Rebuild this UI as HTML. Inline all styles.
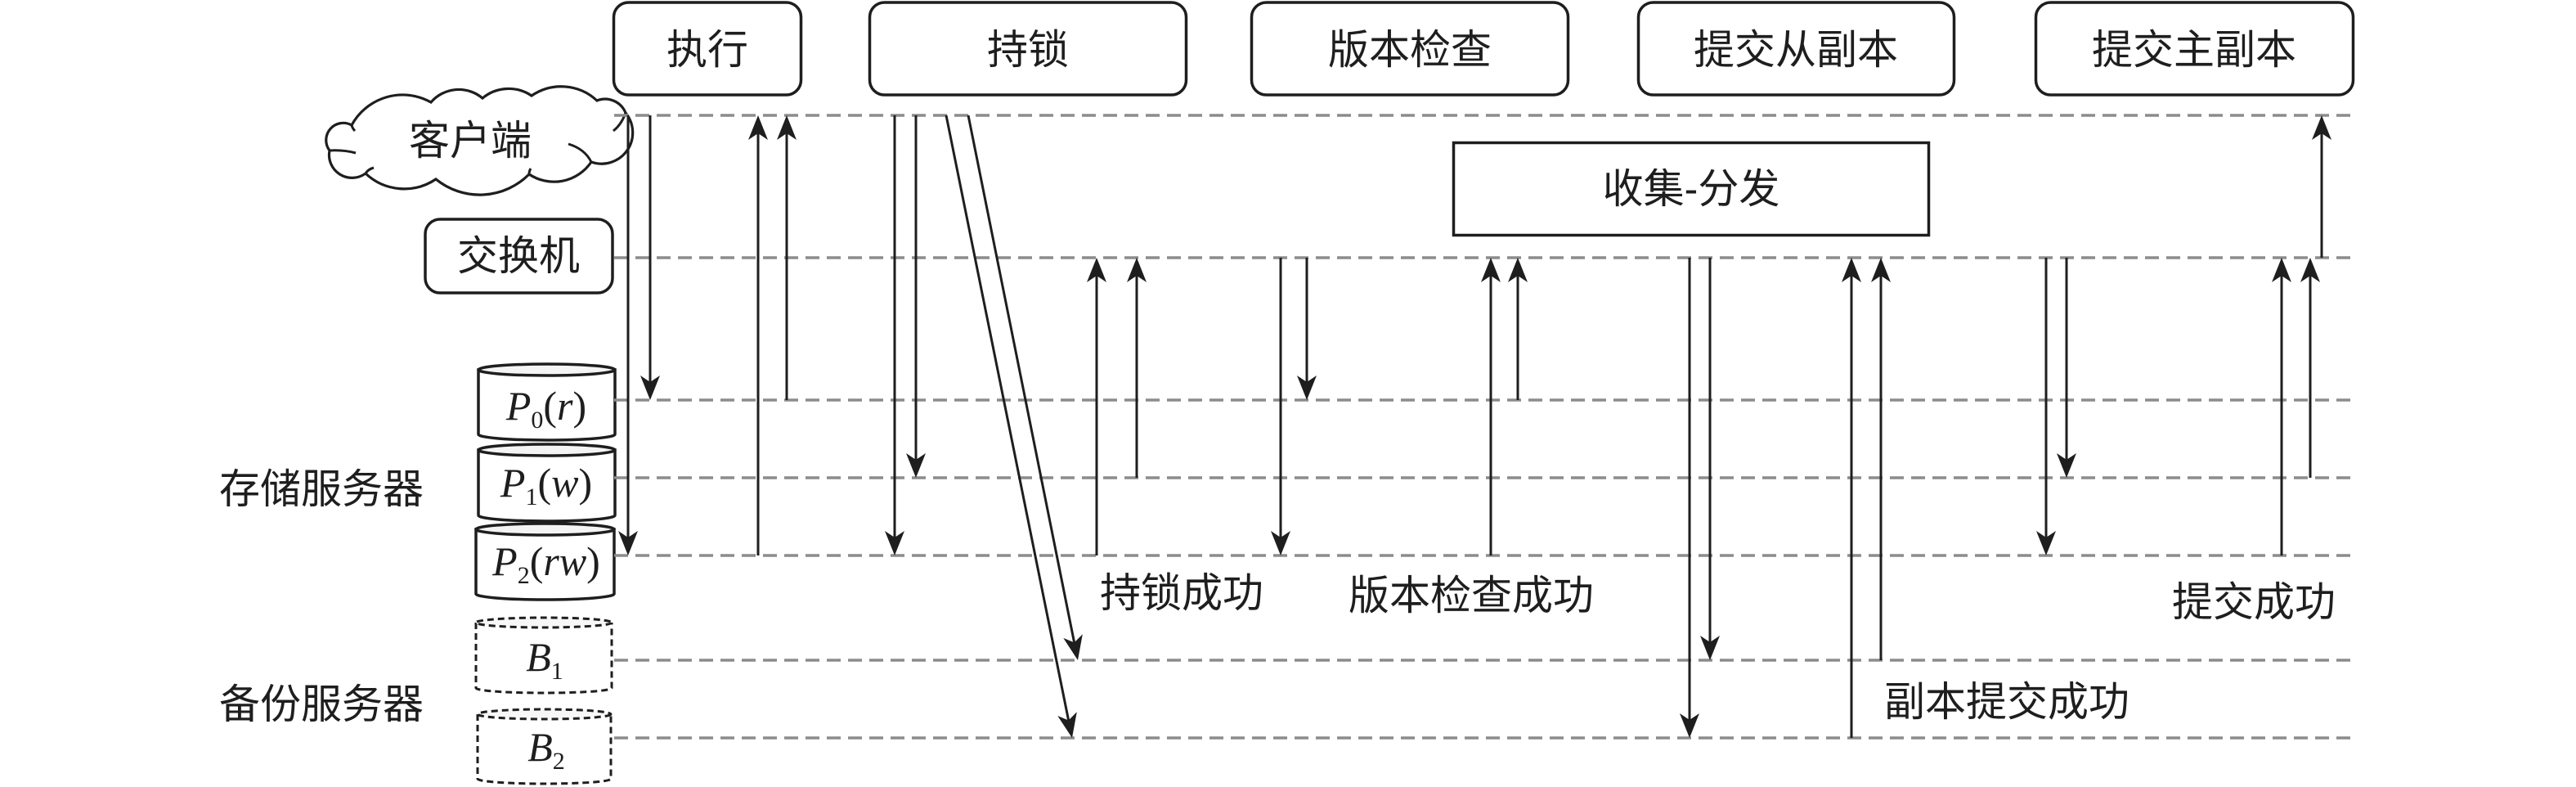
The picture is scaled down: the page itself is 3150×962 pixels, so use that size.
<!DOCTYPE html>
<html>
<head>
<meta charset="utf-8">
<style>
  html, body { margin: 0; padding: 0; background: #ffffff; }
  body { width: 3150px; height: 962px; overflow: hidden; }
  svg { display: block; }
  .cjk { font-family: "Liberation Sans", "Noto Sans CJK SC", "WenQuanYi Zen Hei", sans-serif; font-size: 50px; fill: #1e1e1e; }
  .ser { font-family: "Liberation Serif", serif; font-size: 50px; fill: #1e1e1e; }
</style>
</head>
<body>
<svg width="3150" height="962" viewBox="0 0 3150 962" xmlns="http://www.w3.org/2000/svg">
  <defs>
    <marker id="ah" viewBox="0 0 30 24" refX="20" refY="12" markerWidth="30" markerHeight="24" markerUnits="userSpaceOnUse" orient="auto">
      <path d="M0,0 L30,12 L0,24 L8,12 Z" fill="#1e1e1e"/>
    </marker>
  </defs>

  <!-- Top phase boxes -->
  <g fill="#ffffff" stroke="#1e1e1e" stroke-width="3.5">
    <rect x="750.5" y="3" width="229" height="113" rx="18"/>
    <rect x="1063.5" y="3" width="387" height="113" rx="18"/>
    <rect x="1530.5" y="3" width="387" height="113" rx="18"/>
    <rect x="2003.5" y="3" width="386" height="113" rx="18"/>
    <rect x="2489.5" y="3" width="388" height="113" rx="18"/>
    <!-- switch box -->
    <rect x="520" y="268" width="229" height="90" rx="18"/>
    <!-- gather-scatter box -->
    <rect x="1777.5" y="174.5" width="581" height="113"/>
  </g>
  <g class="cjk" text-anchor="middle" dominant-baseline="central">
    <text x="865" y="61">执行</text>
    <text x="1257" y="61">持锁</text>
    <text x="1724" y="61">版本检查</text>
    <text x="2196" y="61">提交从副本</text>
    <text x="2683" y="61">提交主副本</text>
    <text x="634" y="313">交换机</text>
    <text x="2068" y="231">收集-分发</text>
  </g>

  <!-- Cloud -->
  <path d="M430,153 A71,71 0 0 1 527,125 A45,45 0 0 1 590,120 A50,50 0 0 1 650,117 A64,64 0 0 1 730,123 A27,27 0 0 1 765,138 A38,38 0 0 1 723,198 A55,55 0 0 1 647,213 A85,85 0 0 1 533,219 A69,69 0 0 1 447,212 A28,28 0 0 1 403,184 A21,21 0 0 1 430,153 Z" fill="#ffffff" stroke="#1e1e1e" stroke-width="3.2"/>
  <g fill="none" stroke="#1e1e1e" stroke-width="3">
    <path d="M403,184 Q420,183 435,187"/>
    <path d="M447,212 Q450,207 457,205"/>
    <path d="M723,198 Q715,182 695,176"/>
    <path d="M765,138 Q760,152 750,160"/>
    <path d="M430,153 Q431,157 434,160"/>
    <path d="M647,213 Q647,209 649,206"/>
  </g>
  <text class="cjk" x="575" y="172" text-anchor="middle" dominant-baseline="central">客户端</text>

  <!-- Storage cylinders -->
  <g stroke="#1e1e1e" stroke-width="3.5">
    <path d="M585,452 L585,531 A83.5,7 0 0 0 752,531 L752,452 Z" fill="#ffffff"/>
    <ellipse cx="668.5" cy="452" rx="83.5" ry="7" fill="#f4f4f4"/>
    <path d="M585,550 L585,630 A83.5,7 0 0 0 752,630 L752,550 Z" fill="#ffffff"/>
    <ellipse cx="668.5" cy="550" rx="83.5" ry="7" fill="#f4f4f4"/>
    <path d="M582,647 L582,726 A84.5,7 0 0 0 751,726 L751,647 Z" fill="#ffffff"/>
    <ellipse cx="666.5" cy="647" rx="84.5" ry="7" fill="#f4f4f4"/>
  </g>
  <!-- Backup cylinders (dashed) -->
  <g stroke="#1e1e1e" stroke-width="3" stroke-dasharray="8 5" fill="none">
    <path d="M582,761 L582,841 A83,6 0 0 0 748,841 L748,761"/>
    <ellipse cx="665" cy="761" rx="83" ry="6" fill="#f7f7f7"/>
    <path d="M584,873 L584,952 A81.5,6 0 0 0 747,952 L747,873"/>
    <ellipse cx="665.5" cy="873" rx="81.5" ry="6" fill="#f7f7f7"/>
  </g>

  <!-- Cylinder labels -->
  <g class="ser" text-anchor="middle">
    <text x="668" y="513"><tspan font-style="italic">P</tspan><tspan font-size="30" dy="10">0</tspan><tspan dy="-10">(</tspan><tspan font-style="italic">r</tspan>)</text>
    <text x="668" y="607"><tspan font-style="italic">P</tspan><tspan font-size="30" dy="10">1</tspan><tspan dy="-10">(</tspan><tspan font-style="italic">w</tspan>)</text>
    <text x="668" y="703"><tspan font-style="italic">P</tspan><tspan font-size="30" dy="10">2</tspan><tspan dy="-10">(</tspan><tspan font-style="italic">rw</tspan>)</text>
    <text x="666" y="820"><tspan font-style="italic">B</tspan><tspan font-size="30" dy="10">1</tspan></text>
    <text x="668" y="930"><tspan font-style="italic">B</tspan><tspan font-size="30" dy="10">2</tspan></text>
  </g>

  <!-- Group labels -->
  <g class="cjk" dominant-baseline="central">
    <text x="268" y="598">存储服务器</text>
    <text x="268" y="861">备份服务器</text>
  </g>

  <!-- Dashed lifelines -->
  <g stroke="#8c8c8c" stroke-width="3.5" stroke-dasharray="17 9" fill="none">
    <line x1="751" y1="141" x2="2879" y2="141"/>
    <line x1="751" y1="315" x2="2879" y2="315"/>
    <line x1="751" y1="489" x2="2879" y2="489"/>
    <line x1="751" y1="584" x2="2879" y2="584"/>
    <line x1="751" y1="679" x2="2879" y2="679"/>
    <line x1="751" y1="807" x2="2879" y2="807"/>
    <line x1="751" y1="902" x2="2879" y2="902"/>
  </g>

  <!-- Message arrows -->
  <g stroke="#1e1e1e" stroke-width="3" fill="none" marker-end="url(#ah)">
    <!-- execute -->
    <line x1="768" y1="141" x2="768" y2="669"/>
    <line x1="795" y1="141" x2="795" y2="479"/>
    <line x1="927" y1="679" x2="927" y2="151"/>
    <line x1="962" y1="489" x2="962" y2="151"/>
    <!-- lock -->
    <line x1="1094" y1="141" x2="1094" y2="669"/>
    <line x1="1120" y1="141" x2="1120" y2="574"/>
    <line x1="1157" y1="141" x2="1309" y2="892.2"/>
    <line x1="1184" y1="141" x2="1316" y2="797.2"/>
    <line x1="1341" y1="679" x2="1341" y2="325"/>
    <line x1="1390" y1="584" x2="1390" y2="325"/>
    <!-- version check -->
    <line x1="1566" y1="315" x2="1566" y2="669"/>
    <line x1="1598" y1="315" x2="1598" y2="479"/>
    <line x1="1823" y1="679" x2="1823" y2="325"/>
    <line x1="1856" y1="489" x2="1856" y2="325"/>
    <!-- commit replicas -->
    <line x1="2066" y1="315" x2="2066" y2="892"/>
    <line x1="2091" y1="315" x2="2091" y2="797"/>
    <line x1="2264" y1="902" x2="2264" y2="325"/>
    <line x1="2300" y1="807" x2="2300" y2="325"/>
    <!-- commit primary -->
    <line x1="2502" y1="315" x2="2502" y2="669"/>
    <line x1="2527" y1="315" x2="2527" y2="574"/>
    <line x1="2790" y1="679" x2="2790" y2="325"/>
    <line x1="2825" y1="584" x2="2825" y2="325"/>
    <line x1="2839" y1="315" x2="2839" y2="151"/>
  </g>

  <!-- Result labels -->
  <g class="cjk" dominant-baseline="central">
    <text x="1345" y="725">持锁成功</text>
    <text x="1649" y="728">版本检查成功</text>
    <text x="2656" y="736">提交成功</text>
    <text x="2304" y="858">副本提交成功</text>
  </g>
</svg>
</body>
</html>
